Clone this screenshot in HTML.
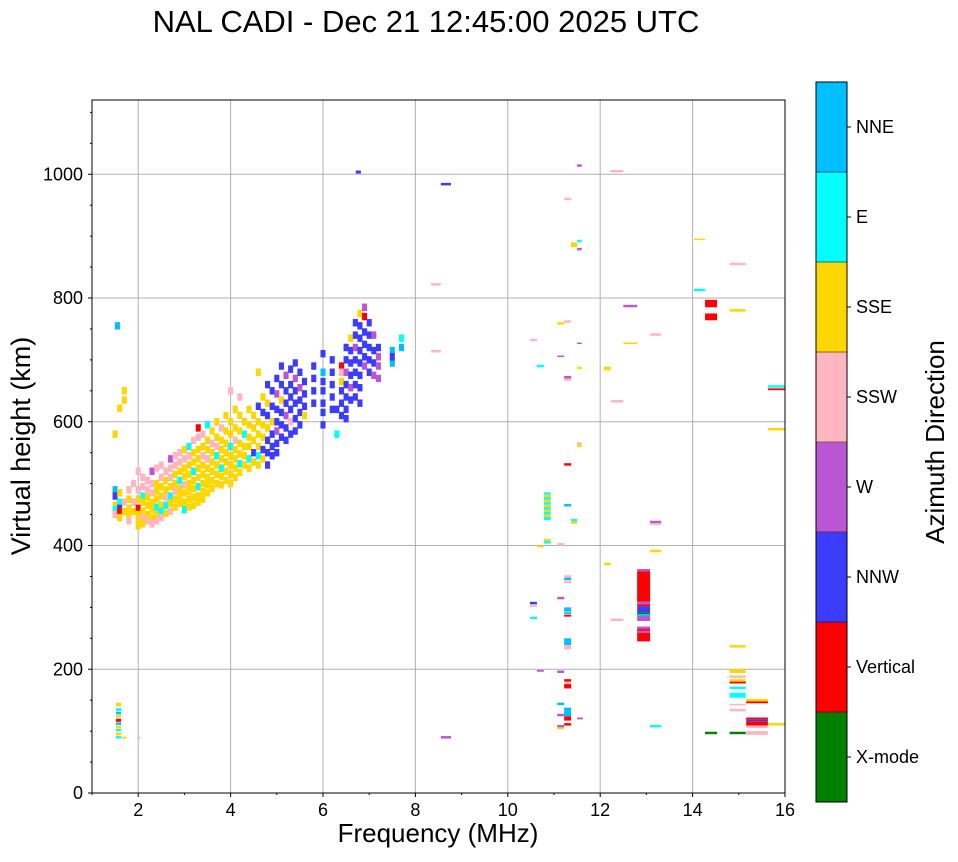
<!DOCTYPE html>
<html><head><meta charset="utf-8"><style>
body{margin:0;background:#fff;}
svg text{font-family:"Liberation Sans","DejaVu Sans",sans-serif;}
</style></head><body>
<svg id="chart" width="958" height="857" viewBox="0 0 958 857" xmlns="http://www.w3.org/2000/svg">
<text x="426" y="32" font-size="31" text-anchor="middle">NAL CADI - Dec 21 12:45:00 2025 UTC</text>
<g id="grid"></g>
<g id="marks"></g>
<rect x="92" y="100" width="693" height="693" fill="none" stroke="#000" stroke-width="1"/>
<g id="axes"></g>
<text x="438" y="842" font-size="26" text-anchor="middle">Frequency (MHz)</text>
<text transform="translate(30,446) rotate(-90)" font-size="27" text-anchor="middle">Virtual height (km)</text>
<g id="cbar"></g>
<text transform="translate(944,442) rotate(-90)" font-size="26" text-anchor="middle">Azimuth Direction</text>
</svg>
<script>
const dirNames = ["X-mode","Vertical","NNW","W","SSW","SSE","E","NNE"];
const dirColors = ["#008000","#ff0000","#3c3cff","#ba55d3","#ffb6c1","#ffd700","#00ffff","#00bfff"];
const xTicks = [2,4,6,8,10,12,14,16];
const yTicks = [0,200,400,600,800,1000];
// cloud columns: [freq, [height, dir, height, dir, ...]]
const cloud = [
[1.5,[490,7,480,2,465,5,458,6,450,4,580,5]],
[1.55,[755,7]],
[1.6,[485,5,470,6,460,2,455,1,445,5,622,5]],
[1.7,[650,5,635,5,470,4,455,5]],
[1.8,[490,4,475,5,460,5,448,5,440,4]],
[1.9,[500,4,470,4,455,5]],
[2.0,[520,4,490,4,475,5,460,1,450,5,440,5,432,5]],
[2.1,[510,4,495,4,480,6,470,5,455,5,445,4,435,5]],
[2.2,[505,4,490,4,478,5,465,5,450,5,440,4]],
[2.3,[520,3,500,4,485,4,470,5,458,5,445,5,435,4]],
[2.4,[525,4,500,5,488,5,475,5,462,6,450,5,440,4]],
[2.5,[530,4,510,4,495,5,480,5,465,5,455,6,445,4]],
[2.6,[520,4,505,5,490,5,478,4,465,6,452,5]],
[2.7,[540,3,525,4,510,4,495,5,480,6,468,5,455,4]],
[2.8,[545,4,530,4,515,5,500,5,488,4,475,5,462,5]],
[2.9,[550,4,535,4,520,5,505,6,492,5,480,5,468,5]],
[3.0,[555,5,540,4,525,5,512,5,498,4,485,5,470,5,458,6]],
[3.1,[560,6,545,4,530,5,515,5,500,5,488,5,475,5,462,5]],
[3.2,[570,4,550,5,535,5,520,6,505,5,492,5,478,5,465,5]],
[3.3,[590,1,575,4,555,5,540,5,525,5,510,5,495,6,480,5,470,5]],
[3.4,[580,4,560,5,545,4,530,5,515,5,500,5,487,5,475,5]],
[3.5,[595,6,570,5,555,5,540,4,525,5,510,5,498,5,485,5]],
[3.6,[585,5,565,4,550,5,535,5,520,5,505,5,492,5]],
[3.7,[600,5,575,5,560,4,545,6,530,5,515,5,500,5]],
[3.8,[590,4,570,5,555,5,540,5,525,6,512,5,498,5]],
[3.9,[610,5,585,5,565,5,550,5,535,5,520,5,505,5]],
[4.0,[650,4,600,5,580,5,560,6,545,5,530,5,515,5,500,5]],
[4.1,[620,5,590,5,570,4,555,5,540,5,525,5,510,5]],
[4.2,[640,4,610,5,585,5,565,5,548,5,532,6,518,5]],
[4.3,[600,5,580,6,560,5,545,5,530,5]],
[4.4,[620,5,595,5,575,5,560,5,540,6,525,5]],
[4.5,[610,5,590,5,570,5,550,2,535,5]],
[4.6,[680,5,625,2,600,5,580,5,560,5,545,6,530,5]],
[4.7,[640,5,615,2,595,5,575,5,555,2,540,5]],
[4.8,[660,2,630,5,610,2,590,5,570,2,550,2,530,2]],
[4.9,[650,2,625,2,600,5,580,2,560,2,545,2]],
[5.0,[670,2,645,3,620,2,600,2,585,3,565,2,550,2]],
[5.1,[690,2,660,2,635,5,615,2,595,2,575,2]],
[5.2,[675,3,650,2,630,2,610,3,590,2,570,2]],
[5.3,[685,2,660,2,640,2,620,2,600,4,580,2]],
[5.4,[695,2,670,3,650,2,630,2,605,2,585,2]],
[5.5,[680,2,655,3,635,2,615,2,595,2]],
[5.6,[665,2,645,2,625,2,610,5]],
[5.8,[690,2,670,2,650,2,630,2]],
[6.0,[710,2,680,7,665,2,650,2,630,2,615,2,595,2]],
[6.2,[700,2,680,2,660,2,640,2,620,2]],
[6.3,[580,6,620,2]],
[6.4,[690,1,680,4,665,5,650,2,630,2,610,2]],
[6.5,[720,2,700,2,680,3,660,2,640,2,620,2,605,2]],
[6.6,[735,5,715,2,695,2,675,2,655,3,635,2]],
[6.7,[760,2,740,2,720,3,700,2,680,2,660,2,640,2]],
[6.8,[775,5,755,2,735,2,715,2,695,2,675,2,655,2,630,2]],
[6.9,[785,3,770,1,745,2,725,2,705,2,690,3]],
[7.0,[760,2,740,2,720,2,700,2,680,2]],
[7.1,[740,3,715,2,695,2,675,3]],
[7.2,[720,2,705,3,690,3,670,3]],
[7.5,[715,7,695,7,705,2]],
[7.7,[735,6,720,7]]
];
// sparse echoes: [fStart, fEnd, hLow, hHigh, dir]
const echoes = [
[1.52,1.63,140,146,5],[1.52,1.63,132,137,6],[1.52,1.63,127,131,7],[1.52,1.63,122,126,5],[1.52,1.63,115,120,1],
[1.52,1.63,110,114,7],[1.52,1.63,105,109,5],[1.52,1.63,100,104,6],[1.52,1.63,93,98,5],[1.52,1.63,88,92,6],
[1.65,1.75,88,91,5],[1.98,2.05,88,91,4],
[6.71,6.82,1001,1006,2],[8.55,8.77,982,986,2],[8.55,8.77,88,92,3],[8.34,8.55,820,824,4],[8.34,8.55,712,716,4],
[11.5,11.6,1012,1016,3],[12.23,12.5,1003,1007,4],[11.22,11.37,958,962,4],[11.5,11.6,890,894,6],[11.37,11.5,882,890,5],
[11.5,11.6,877,881,3],[14.03,14.27,894,896,5],[14.8,15.15,853,857,4],[14.03,14.27,811,815,6],[14.27,14.53,785,797,1],
[14.27,14.53,764,775,1],[14.8,15.15,778,782,5],[12.5,12.8,785,789,3],[7.67,7.72,733,737,6],[7.67,7.72,715,719,7],
[11.07,11.22,757,761,5],[11.22,11.37,760,764,4],[10.48,10.63,730,734,4],[11.5,11.6,726,728,3],[13.08,13.32,739,743,4],
[12.5,12.8,726,728,5],[11.07,11.22,705,707,3],[10.63,10.78,688,692,6],[11.5,11.6,685,689,5],[12.08,12.23,683,689,5],
[11.22,11.37,670,674,3],[11.22,11.37,666,670,4],[12.23,12.5,631,635,4],[15.63,16,655,659,6],[15.63,16,651,654,1],
[15.63,16,586,590,5],[11.5,11.6,563,567,4],[11.5,11.6,559,563,5],[11.22,11.37,529,533,1],
[10.78,10.93,482,486,6],[10.78,10.93,478,482,5],[10.78,10.93,474,478,6],[10.78,10.93,470,474,5],[10.78,10.93,466,470,6],
[10.78,10.93,462,466,5],[10.78,10.93,458,462,6],[10.78,10.93,454,458,5],[10.78,10.93,450,454,6],[10.78,10.93,446,450,5],
[10.78,10.93,441,446,6],[11.22,11.37,463,467,7],[11.37,11.5,439,443,6],[11.37,11.5,435,439,5],[13.08,13.32,436,440,3],
[13.08,13.32,433,436,4],[10.78,10.93,407,411,5],[10.78,10.93,403,407,6],[11.07,11.22,400,404,4],[10.63,10.78,397,400,5],
[13.08,13.32,389,393,5],[12.08,12.23,368,372,5],
[12.8,13.08,358,362,3],[12.8,13.08,309,358,1],[12.8,13.08,305,309,3],[12.8,13.08,302,305,1],[12.8,13.08,292,302,2],
[12.8,13.08,289,292,0],[12.8,13.08,286,289,7],[12.8,13.08,278,286,3],[12.8,13.08,265,269,3],[12.8,13.08,262,265,1],
[12.8,13.08,259,262,3],[12.8,13.08,245,259,1],
[12.23,12.5,278,282,4],[11.22,11.37,348,352,4],[11.22,11.37,344,348,7],[11.22,11.37,339,343,4],[11.07,11.22,313,317,3],
[10.48,10.63,305,309,2],[10.48,10.63,301,305,4],[11.22,11.37,293,300,7],[11.22,11.37,289,292,7],[11.22,11.37,285,288,1],
[10.48,10.63,281,285,6],[11.22,11.37,239,250,7],[11.22,11.37,232,239,4],[14.8,15.15,235,239,5],
[10.63,10.78,196,199,3],[11.07,11.22,194,198,3],[11.22,11.37,180,184,1],[11.22,11.37,176,180,4],[11.22,11.37,169,176,1],
[11.07,11.22,142,146,7],[11.22,11.37,124,138,7],[11.22,11.37,117,124,1],[11.07,11.22,124,128,3],[11.5,11.63,119,122,3],
[11.22,11.37,109,113,1],[11.07,11.22,106,110,3],[11.07,11.22,103,106,5],[13.08,13.32,106,110,6],
[14.27,14.53,95,99,0],[14.8,15.15,95,99,0],
[14.8,15.15,194,200,5],[14.8,15.15,186,190,4],[14.8,15.15,180,184,5],[14.8,15.15,177,180,1],[14.8,15.15,168,172,6],
[14.8,15.15,154,162,6],[14.8,15.15,142,144,4],[14.8,15.15,132,136,4],
[15.16,15.63,148,152,5],[15.16,15.63,145,148,1],[15.16,15.63,119,122,1],[15.16,15.63,116,119,2],[15.16,15.63,109,116,1],
[15.16,15.63,105,109,4],[15.16,15.63,94,100,4],[15.63,16,109,113,5]
];
const X0=92, X1=785, Y0=793, Y1=100, FMIN=1, FMAX=16, HMIN=0, HMAX=1120;
function xs(f){return X0+(f-FMIN)/(FMAX-FMIN)*(X1-X0);}
function ys(h){return Y0-(h-HMIN)/(HMAX-HMIN)*(Y0-Y1);}
const NS="http://www.w3.org/2000/svg";
function mk(tag,attrs,parent){const e=document.createElementNS(NS,tag);for(const k in attrs)e.setAttribute(k,attrs[k]);parent.appendChild(e);return e;}
const grid=document.getElementById('grid'), axes=document.getElementById('axes'), marks=document.getElementById('marks'), cbar=document.getElementById('cbar');
xTicks.forEach(t=>{
  const x=xs(t);
  if(t<FMAX){const g=mk('line',{x1:x,x2:x,y1:Y1,y2:Y0,stroke:'#b0b0b0','stroke-width':1},grid);
  
  }
  mk('line',{x1:x,x2:x,y1:Y0,y2:Y0+4,stroke:'#000'},axes);
  const tx=mk('text',{x:x,y:Y0+23,'font-size':18,'text-anchor':'middle'},axes);
  tx.textContent=t;
  
  
});
for(let f=1;f<=16;f+=1){ if(f%2===1){const x=xs(f);mk('line',{x1:x,x2:x,y1:Y0,y2:Y0+2,stroke:'#000'},axes);} }
yTicks.forEach(t=>{
  const y=ys(t);
  if(t>0){const g=mk('line',{x1:X0,x2:X1,y1:y,y2:y,stroke:'#b0b0b0','stroke-width':1},grid);
  
  }
  mk('line',{x1:X0-4,x2:X0,y1:y,y2:y,stroke:'#000'},axes);
  const tx=mk('text',{x:X0-9,y:y+6,'font-size':18,'text-anchor':'end'},axes);
  tx.textContent=t;
  
  
});
for(let h=50;h<HMAX;h+=50){ if(h%200!==0){const y=ys(h);mk('line',{x1:X0-2,x2:X0,y1:y,y2:y,stroke:'#000'},axes);} }
const cw=(X1-X0)/(FMAX-FMIN)*0.11, ch=(Y0-Y1)/(HMAX-HMIN)*12;
cloud.forEach(col=>{
  const f=col[0], p=col[1];
  for(let i=0;i<p.length;i+=2){
    const r=mk('rect',{x:xs(f)-cw/2,y:ys(p[i])-ch/2,width:cw,height:ch,fill:dirColors[p[i+1]]},marks);
    
    
  }
});
echoes.forEach(e=>{
  const r=mk('rect',{x:xs(e[0]),y:ys(e[3]),width:xs(e[1])-xs(e[0]),height:Math.max(1.5,ys(e[2])-ys(e[3])),fill:dirColors[e[4]]},marks);
  
  
});
const CX=816, CW=31, CT=82, CB=802, seg=(CB-CT)/dirNames.length;
dirNames.forEach((n,i)=>{
  const y=CB-(i+1)*seg;
  const r=mk('rect',{x:CX,y:y,width:CW,height:seg+0.5,fill:dirColors[i]},cbar);
  
  
  mk('line',{x1:CX+CW,x2:CX+CW+4,y1:y+seg/2,y2:y+seg/2,stroke:'#000'},cbar);
  const t=mk('text',{x:CX+CW+9,y:y+seg/2+6,'font-size':18},cbar);
  t.textContent=n;
  
  
});
for(let i=0;i<=dirNames.length;i++){const y=CB-i*seg;mk('line',{x1:CX,x2:CX+CW,y1:y,y2:y,stroke:'#000','stroke-width':0.5},cbar);}
mk('rect',{x:CX,y:CT,width:CW,height:CB-CT,fill:'none',stroke:'#000','stroke-width':1},cbar);
</script>
</body></html>
